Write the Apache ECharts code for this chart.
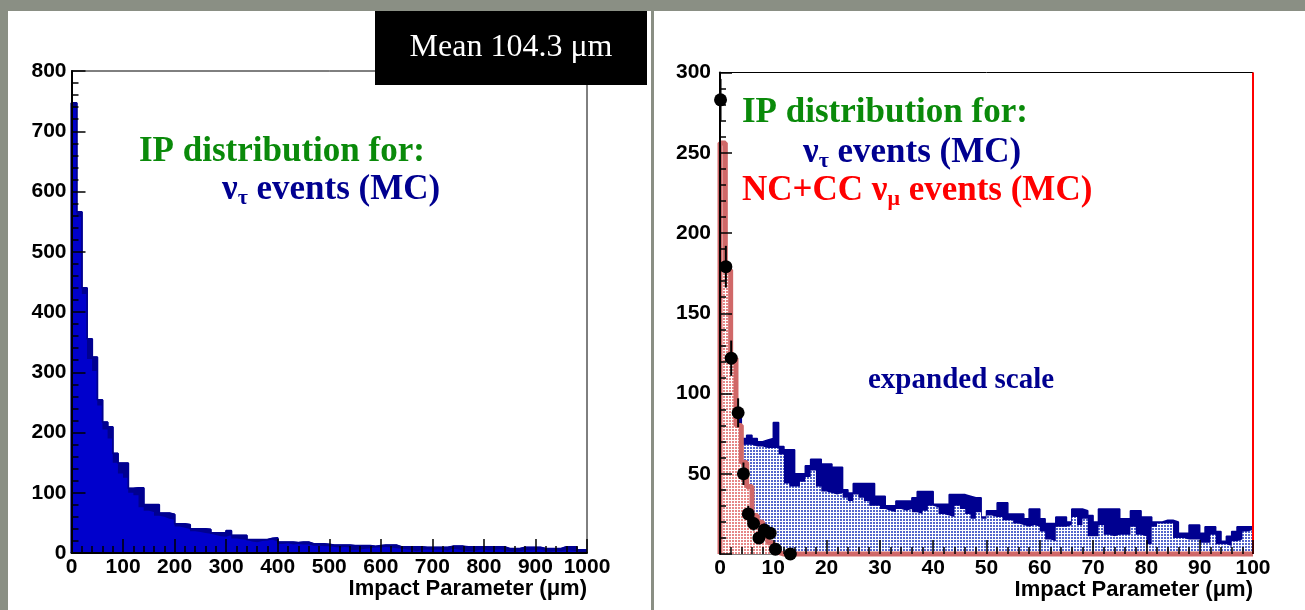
<!DOCTYPE html>
<html>
<head>
<meta charset="utf-8">
<script src="https://cdn.jsdelivr.net/npm/echarts@6/dist/echarts.min.js"></script>
<style>
  html, body { margin: 0; padding: 0; background: #8a8f84; }
  #chart { width: 1305px; height: 610px; }
</style>
</head>
<body>
<div id="chart"></div>
<script>
// ---- Left panel: impact parameter of nu_tau events, 10 um bins, 0..1000 um ----
const leftBinWidth = 10;
const leftRange = [0, 1000];
const leftYRange = [0, 800];
// outer (dark) histogram
const leftTotal = [
  747, 566, 440, 355, 325, 254, 217, 209, 165, 149,
  149, 107, 108, 108, 80, 80, 80, 66, 66, 64,
  48, 48, 47, 40, 40, 40, 39, 33, 33, 33,
  37, 29, 29, 29, 22, 22, 22, 22, 24, 25,
  18, 18, 18, 17, 18, 18, 15, 15, 15, 14,
  13, 13, 13, 13, 12, 12, 12, 12, 11, 12,
  13, 13, 13, 10, 10, 10, 10, 10, 9, 9,
  9, 9, 9, 11, 11, 11, 10, 10, 10, 10,
  10, 10, 10, 10, 7, 7, 7, 9, 9, 9,
  9, 7, 7, 7, 7, 10, 10, 10, 5, 5
];
// inner (bright) histogram
const leftInner = [
  740, 558, 430, 322, 302, 245, 205, 190, 150, 132,
  125, 100, 96, 76, 70, 68, 62, 60, 57, 55,
  44, 42, 40, 36, 35, 33, 32, 30, 28, 27,
  30, 24, 23, 22, 19, 18, 20, 21, 22, 19,
  15, 16, 14, 15, 14, 14, 12, 12, 11, 11,
  10, 9, 10, 9, 5, 6, 7, 8, 9, 9,
  10, 9, 8, 7, 6, 5, 3, 5, 6, 5,
  6, 5, 4, 7, 6, 4, 3, 3, 5, 6,
  4, 5, 6, 4, 3, 2, 3, 5, 4, 5,
  6, 3, 2, 4, 3, 5, 4, 3, 1, 1
];

// ---- Right panel: expanded scale, 1 um bins, 0..100 um ----
const rightBinWidth = 1;
const rightRange = [0, 100];
const rightYRange = [0, 300];
// nu_tau events, outer (solid) histogram
const rightTauOuter = [
  77, 80, 82, 85, 72, 74, 72, 70, 71, 72,
  82, 67, 65, 65, 50, 50, 55, 59, 59, 56,
  56, 54, 54, 40, 38, 44, 44, 44, 44, 36,
  36, 30, 30, 33, 33, 33, 35, 39, 39, 39,
  31, 31, 31, 37, 37, 37, 36, 35, 35, 23,
  27, 27, 32, 32, 25, 25, 25, 22, 28, 28,
  22, 19, 19, 23, 23, 20, 28, 28, 27, 24,
  20, 28, 28, 28, 28, 22, 22, 27, 27, 23,
  23, 20, 20, 21, 21, 20, 13, 13, 18, 18,
  13, 17, 17, 14, 8, 11, 14, 17, 17, 17
];
// nu_tau events, inner (dotted) histogram
const rightTauInner = [
  70, 75, 78, 80, 68, 68, 67, 67, 66, 66,
  66, 62, 44, 42, 42, 45, 48, 52, 42, 39,
  38, 37, 38, 35, 33, 37, 35, 33, 30, 30,
  28, 27, 26, 28, 27, 28, 26, 25, 27, 30,
  29, 25, 24, 23, 30, 28, 25, 22, 26, 22,
  24, 23, 23, 21, 21, 19, 18, 17, 18, 17,
  14, 9, 8, 17, 17, 18, 23, 18, 22, 11,
  11, 18, 12, 11, 12, 12, 12, 17, 12, 11,
  6, 17, 19, 19, 19, 10, 10, 9, 9, 9,
  7, 7, 12, 6, 6, 5, 8, 9, 14, 15
];
// NC+CC nu_mu events
const rightNumu = [
  256, 177, 122, 80, 57, 42, 24, 20, 14, 7,
  1, 0, 0, 0, 0, 0, 0, 0, 0, 0,
  0, 0, 0, 0, 0, 0, 0, 0, 0, 0,
  0, 0, 0, 0, 0, 0, 0, 0, 0, 0,
  0, 0, 0, 0, 0, 0, 0, 0, 0, 0,
  0, 0, 0, 0, 0, 0, 0, 0, 0, 0,
  0, 0, 0, 0, 0, 0, 0, 0, 0, 0,
  0, 0, 0, 0, 0, 0, 0, 0, 0, 0,
  0, 0, 0, 0, 0, 0, 0, 0, 0, 0,
  0, 0, 0, 0, 0, 0, 0, 0, 0, 0
];
// points with error bars
const pointsX   = [0.1, 1.1, 2.1, 3.4, 4.4, 5.3, 6.3, 7.3, 8.3, 9.4, 10.4, 13.2];
const pointsY   = [283, 179, 122, 88, 50, 25, 19, 10, 15, 13, 3, 0];
const pointsErr = [13, 13, 11, 9, 7, 5, 4.4, 3.2, 3.9, 3.6, 1.7, 0];

// ---- colours and fonts ----
const NAVY = '#000090';
const BLUE = '#0000cc';
const SALMON = '#d06868';
const GREEN = '#0a8a0a';
const AXIS_FONT = 'Liberation Sans';
const NOTE_FONT = 'Liberation Serif';

// step polyline points: bin i spans [i*w, (i+1)*w]
function steps(values, w, fromZero) {
  const pts = [];
  if (fromZero) pts.push([0, 0]);
  values.forEach((v, i) => pts.push([i * w, v]));
  pts.push([values.length * w, values[values.length - 1]]);
  return pts;
}

// small dotted fill patterns
function dotPattern(dot) {
  const c = document.createElement('canvas');
  c.width = 3; c.height = 3;
  const g = c.getContext('2d');
  g.fillStyle = '#ffffff';
  g.fillRect(0, 0, 3, 3);
  g.fillStyle = dot;
  g.fillRect(0, 0, 2, 2);
  return { image: c, repeat: 'repeat' };
}

const tickLabel = (margin, extra) => Object.assign({
  color: '#000', fontFamily: AXIS_FONT, fontWeight: 'bold', fontSize: 21, margin: margin,
  formatter: (v) => String(v)
}, extra || {});

function axisCommon(extra) {
  return Object.assign({
    type: 'value',
    axisLine: { show: true, onZero: false, lineStyle: { color: '#000', width: 2 } },
    axisTick: { show: true, inside: true, length: 14, lineStyle: { color: '#000', width: 1.5 } },
    minorTick: { show: true, splitNumber: 5, length: 7, lineStyle: { color: '#000', width: 1.5 } },
    splitLine: { show: false },
    z: 10
  }, extra);
}

const titleStyle = {
  color: '#000', fontFamily: AXIS_FONT, fontWeight: 'bold', fontSize: 22,
  align: 'right', verticalAlign: 'top', padding: [25, 0, 0, 0]
};

const chart = echarts.init(document.getElementById('chart'), null, { renderer: 'canvas' });

const noteRich = (color) => ({
  n: { fontFamily: NOTE_FONT, fontWeight: 'bold', fontSize: 35, fill: color, lineHeight: 38 },
  s: { fontFamily: NOTE_FONT, fontWeight: 'bold', fontSize: 22, fill: color, lineHeight: 16, verticalAlign: 'bottom' }
});

function note(x, y, text, color) {
  return {
    type: 'text', x: x, y: y, z: 50, silent: true,
    style: { text: text, fill: color, rich: noteRich(color), verticalAlign: 'middle', align: 'left' }
  };
}

chart.setOption({
  animation: false,
  backgroundColor: '#8a8f84',
  grid: [
    { left: 71.5, top: 71, width: 515.5, height: 482, show: true, borderColor: '#000', borderWidth: 1, backgroundColor: 'transparent' },
    { left: 720, top: 72.5, width: 533, height: 481.5, show: true, borderColor: '#000', borderWidth: 1, backgroundColor: 'transparent' }
  ],
  xAxis: [
    axisCommon({
      gridIndex: 0, min: leftRange[0], max: leftRange[1], interval: 100,
      axisLabel: tickLabel(4),
      name: 'Impact Parameter (\u03bcm)', nameLocation: 'end', nameGap: 0, nameTextStyle: titleStyle
    }),
    axisCommon({
      gridIndex: 1, min: rightRange[0], max: rightRange[1], interval: 10,
      axisLine: { show: false },
      axisLabel: tickLabel(4),
      name: 'Impact Parameter (\u03bcm)', nameLocation: 'end', nameGap: 0, nameTextStyle: titleStyle
    })
  ],
  yAxis: [
    axisCommon({
      gridIndex: 0, min: leftYRange[0], max: leftYRange[1], interval: 100,
      axisLabel: tickLabel(5)
    }),
    axisCommon({
      gridIndex: 1, min: rightYRange[0], max: rightYRange[1], interval: 50,
      axisTick: { show: true, inside: true, length: 12, lineStyle: { color: '#000', width: 1.5 } },
      minorTick: { show: true, splitNumber: 5, length: 6, lineStyle: { color: '#000', width: 1.5 } },
      axisLabel: tickLabel(9, { formatter: (v) => (v === 0 ? '' : String(v)) })
    })
  ],
  graphic: {
    elements: [
      // white panels
      { type: 'rect', z: -10, silent: true, shape: { x: 8, y: 11, width: 643, height: 599 }, style: { fill: '#ffffff' } },
      { type: 'rect', z: -10, silent: true, shape: { x: 654, y: 11, width: 651, height: 599 }, style: { fill: '#ffffff' } },
      // mean label
      { type: 'rect', z: 100, silent: true, shape: { x: 375, y: 11, width: 272, height: 74 }, style: { fill: '#000000' } },
      {
        type: 'text', z: 101, silent: true, x: 511, y: 48,
        style: { text: 'Mean 104.3 \u03bcm', fill: '#ffffff', font: '32px "Liberation Serif"', align: 'center', verticalAlign: 'middle' }
      },
      // left notes
      note(139, 152, '{n|IP distribution for:}', GREEN),
      note(222, 190, '{n|\u03bd}{s|\u03c4}{n| events (MC)}', NAVY),
      // right notes
      note(742, 113, '{n|IP distribution for:}', GREEN),
      note(803, 153, '{n|\u03bd}{s|\u03c4}{n| events (MC)}', NAVY),
      note(742, 191, '{n|NC+CC \u03bd}{s|\u03bc}{n| events (MC)}', '#ff0000'),
      {
        type: 'text', z: 50, silent: true, x: 868, y: 381,
        style: { text: 'expanded scale', fill: NAVY, font: 'bold 29px "Liberation Serif"', align: 'left', verticalAlign: 'middle' }
      }
    ]
  },
  series: [
    // left panel
    {
      type: 'line', xAxisIndex: 0, yAxisIndex: 0, step: 'end', symbol: 'none', z: 2,
      data: steps(leftTotal, leftBinWidth, true),
      lineStyle: { color: NAVY, width: 2 }, areaStyle: { color: NAVY, opacity: 1 }
    },
    {
      type: 'line', xAxisIndex: 0, yAxisIndex: 0, step: 'end', symbol: 'none', z: 3,
      data: steps(leftInner, leftBinWidth, true),
      lineStyle: { width: 0 }, areaStyle: { color: BLUE, opacity: 1 }
    },
    {
      type: 'line', xAxisIndex: 0, yAxisIndex: 0, step: 'end', symbol: 'none', z: 4,
      data: steps(leftTotal, leftBinWidth, true),
      lineStyle: { color: NAVY, width: 1.5 }
    },
    // right panel: nu_tau
    {
      type: 'line', xAxisIndex: 1, yAxisIndex: 1, step: 'end', symbol: 'none', z: 2,
      data: steps(rightTauOuter, rightBinWidth, true),
      lineStyle: { color: NAVY, width: 1.5 }, areaStyle: { color: NAVY, opacity: 1 }
    },
    {
      type: 'line', xAxisIndex: 1, yAxisIndex: 1, step: 'end', symbol: 'none', z: 3,
      data: steps(rightTauInner, rightBinWidth, true),
      lineStyle: { width: 0 }, areaStyle: { color: dotPattern('#5566cc'), opacity: 1 }
    },
    // right panel: nu_mu
    {
      type: 'line', xAxisIndex: 1, yAxisIndex: 1, step: 'end', symbol: 'none', z: 4, clip: false,
      data: steps(rightNumu, rightBinWidth, true),
      lineStyle: { color: SALMON, width: 5 }, areaStyle: { color: dotPattern('#e68888'), opacity: 1 },
      markLine: {
        silent: true, symbol: ['none', 'none'], label: { show: false },
        lineStyle: { color: '#ff0000', width: 2, type: 'solid' },
        data: [{ xAxis: rightRange[1] }]
      }
    },
    // error bars
    {
      type: 'custom', xAxisIndex: 1, yAxisIndex: 1, z: 6,
      data: pointsX.map((x, i) => [x, pointsY[i] - pointsErr[i], pointsY[i] + pointsErr[i]]),
      encode: { x: 0, y: [1, 2] },
      renderItem: (params, api) => {
        const a = api.coord([api.value(0), api.value(1)]);
        const b = api.coord([api.value(0), api.value(2)]);
        return { type: 'line', shape: { x1: a[0], y1: a[1], x2: b[0], y2: b[1] }, style: { stroke: '#000', lineWidth: 2 } };
      }
    },
    {
      type: 'scatter', xAxisIndex: 1, yAxisIndex: 1, z: 7, symbolSize: 13,
      data: pointsX.map((x, i) => [x, pointsY[i]]),
      itemStyle: { color: '#000', opacity: 1 }
    }
  ]
});
</script>
</body>
</html>
